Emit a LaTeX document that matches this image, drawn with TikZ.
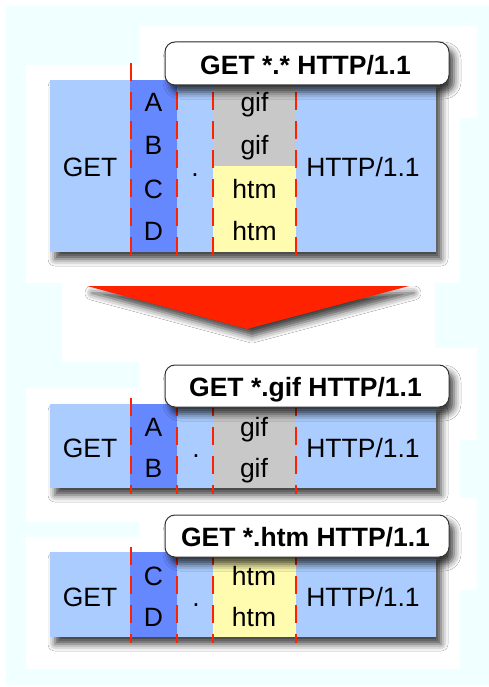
\documentclass[tikz,border=0pt]{standalone}
\usepackage{fontspec}
\setmainfont{Liberation Sans}
\usetikzlibrary{shadows.blur}
\definecolor{bgcyan}{RGB}{240,255,255}
\definecolor{lblue}{RGB}{170,204,255}
\definecolor{dblue}{RGB}{102,136,255}
\definecolor{cgray}{RGB}{200,200,200}
\definecolor{cyel}{RGB}{255,252,176}
\definecolor{dred}{RGB}{255,34,0}
\begin{document}
\begin{tikzpicture}[x=1pt,y=-1pt,
  txt/.style={font=\fontsize{26.5}{26.5}\selectfont, inner sep=0pt, anchor=base},
  btxt/.style={font=\bfseries\fontsize{26.5}{26.5}\selectfont, inner sep=0pt, anchor=base},
  cut/.style={dred, line width=2pt, dash pattern=on 18pt off 11pt},
  sh/.style={blur shadow={shadow xshift=5pt, shadow yshift=-7pt, shadow blur radius=7pt, shadow opacity=75}},
  labelbox/.style={draw=black!80, line width=1pt, fill=white, rounded corners=10pt, sh},
]
\useasboundingbox (0,0) rectangle (489,687);
\fill[bgcyan] (6,6) rectangle (489,685);
% white backdrops
\fill[white] (139,26) rectangle (477,118);
\fill[white] (26,65) rectangle (460,283);
\fill[white] (62,270) rectangle (435,362);
\fill[white] (139,348) rectangle (477,440);
\fill[white] (26,388) rectangle (460,522);
\fill[white] (139,498) rectangle (477,590);
\fill[white] (26,537) rectangle (460,669);

% ---------- top block ----------
\fill[lblue, sh] (50,80) rectangle (436,252);
\fill[dblue] (130,80) rectangle (177,252);
\fill[cgray] (213,80) rectangle (296,166);
\fill[cyel] (213,166) rectangle (296,252);
\foreach \xx in {131,177,213,296} \draw[cut] (\xx,63) -- (\xx,259);
\draw[labelbox] (165,42) rectangle (449,85);
\node[btxt] (l1) at (305.5,75) {GET *.* HTTP/1.1};
\node[txt] (get1) at (90,176) {GET};
\node[txt] (a1) at (153.5,112) {A};
\node[txt] (b1) at (153.5,155) {B};
\node[txt] (c1) at (153.5,198) {C};
\node[txt] (d1) at (153.5,240) {D};
\node[txt] (dot1) at (195,176) {.};
\node[txt] (e1) at (254.5,112) {gif};
\node[txt] (e2) at (254.5,155) {gif};
\node[txt] (e3) at (254.5,198) {htm};
\node[txt] (e4) at (254.5,240) {htm};
\node[txt] (h1) at (363,176) {HTTP/1.1};

% ---------- arrow ----------
\fill[dred, sh] (87,286) -- (409,286) -- (247,329) -- cycle;

% ---------- gif block ----------
\fill[lblue, sh] (50,404) rectangle (436,488);
\fill[dblue] (130,404) rectangle (177,488);
\fill[cgray] (213,404) rectangle (296,488);
\foreach \xx in {131,177,213,296} \draw[cut] (\xx,398) -- (\xx,494);
\draw[labelbox] (165,365) rectangle (449,407);
\node[btxt] (l2) at (305.5,396) {GET *.gif HTTP/1.1};
\node[txt] (get2) at (90,457) {GET};
\node[txt] (a2) at (153.5,436) {A};
\node[txt] (b2) at (153.5,477) {B};
\node[txt] (dot2) at (196,457) {.};
\node[txt] (f1) at (254,436) {gif};
\node[txt] (f2) at (254,477) {gif};
\node[txt] (h2) at (363,457) {HTTP/1.1};

% ---------- htm block ----------
\fill[lblue, sh] (50,552) rectangle (436,637);
\fill[dblue] (130,552) rectangle (177,637);
\fill[cyel] (213,552) rectangle (296,637);
\foreach \xx in {131,177,213,296} \draw[cut] (\xx,547) -- (\xx,643);
\draw[labelbox] (165,515) rectangle (449,557);
\node[btxt] (l3) at (305.5,546) {GET *.htm HTTP/1.1};
\node[txt] (get3) at (90,606) {GET};
\node[txt] (c3) at (153.5,585) {C};
\node[txt] (d3) at (153.5,626) {D};
\node[txt] (dot3) at (196,606) {.};
\node[txt] (k1) at (254,585) {htm};
\node[txt] (k2) at (254,626) {htm};
\node[txt] (h3) at (363,606) {HTTP/1.1};
\end{tikzpicture}
\end{document}
